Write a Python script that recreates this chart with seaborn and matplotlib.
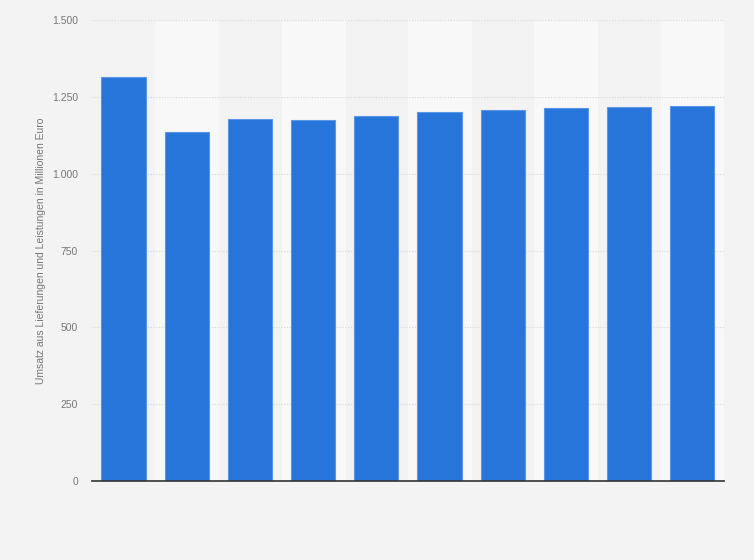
import matplotlib
matplotlib.use("Agg")
import matplotlib.pyplot as plt
from matplotlib.ticker import FuncFormatter
import seaborn as sns
import pandas as pd

# Data (no category labels are shown in the chart)
categories = ["1", "2", "3", "4", "5", "6", "7", "8", "9", "10"]
umsatz = [1314, 1135, 1177, 1174, 1189, 1200, 1206, 1213, 1216, 1222]
yticks = [0, 250, 500, 750, 1000, 1250, 1500]

df = pd.DataFrame({"kategorie": categories, "umsatz": umsatz})

sns.set_style("white")
plt.rcParams["font.family"] = ["Liberation Sans", "DejaVu Sans"]

fig = plt.figure(figsize=(7.54, 5.6), dpi=100, facecolor="#f3f3f3")
ax = fig.add_axes([0.122, 0.141, 0.838, 0.823])
ax.set_facecolor("#f3f3f3")

# alternating column bands
for i in range(len(categories)):
    if i % 2 == 1:
        ax.axvspan(i - 0.5, i + 0.5, color="#f8f8f8", zorder=0)

sns.barplot(data=df, x="kategorie", y="umsatz", color="#2775db", saturation=1,
            width=0.7, edgecolor="#5a97e6", linewidth=0.8, ax=ax, zorder=3)

ax.set_xlim(-0.5, len(categories) - 0.5)
ax.set_ylim(0, 1500)
ax.set_yticks(yticks)
ax.yaxis.set_major_formatter(FuncFormatter(lambda v, p: f"{int(v):,}".replace(",", ".")))
ax.grid(axis="y", color="#d6d6d6", linestyle=(0, (1, 1.5)), linewidth=0.8, zorder=1)
ax.set_axisbelow(True)

ax.set_xticks(range(len(categories)))
ax.set_xticklabels([""] * len(categories))
ax.tick_params(axis="both", length=0, labelsize=7.5, colors="#777777", pad=10)
ax.set_xlabel("")
ax.set_ylabel("Umsatz aus Lieferungen und Leistungen in Millionen Euro",
              fontsize=7.5, color="#777777", labelpad=4)

for side in ["top", "right", "left"]:
    ax.spines[side].set_visible(False)
ax.spines["bottom"].set_color("#333333")
ax.spines["bottom"].set_linewidth(1.2)
ax.spines["bottom"].set_zorder(5)

fig.savefig("out.png", dpi=100, facecolor=fig.get_facecolor())
